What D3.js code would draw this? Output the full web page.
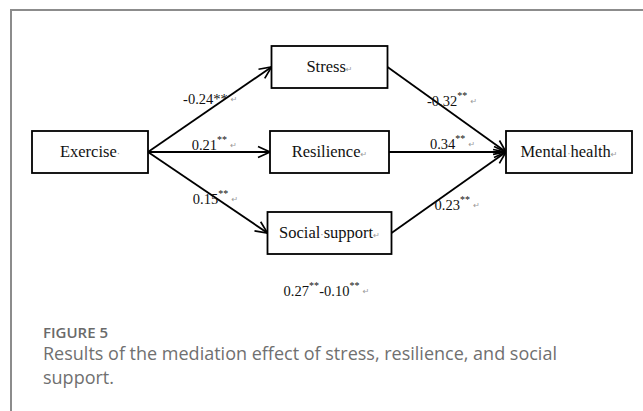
<!DOCTYPE html>
<html>
<head>
<meta charset="utf-8">
<script src="https://cdn.jsdelivr.net/npm/d3@7"></script>
<style>
body { margin: 0; background: #fff; }
svg { display: block; }
</style>
</head>
<body>
<div id="chart"></div>
<script>
// variables of the mediation model
var predictor = "Exercise";
var mediators = ["Stress", "Resilience", "Social support"];
var outcome = "Mental health";

// standardized coefficients
var pathsA = [-0.24, 0.21, 0.15];   // Exercise -> mediator
var pathsB = [-0.32, 0.34, 0.23];   // mediator -> Mental health
var starsA = ["**", "**", "**"];
var starsB = ["**", "**", "**"];
var directEffects = [0.27, -0.10];
var directStars = ["**", "**"];

var captionTitle = "FIGURE 5";
var captionLines = [
    "Results of the mediation effect of stress, resilience, and social",
    "support."
];

var fmt = d3.formatLocale({ decimal: ".", thousands: ",", grouping: [3], currency: ["", ""], minus: "-" }).format(".2f");

function PathDiagram(elemId, htmlWidth, htmlHeight) {
    this._htmlWidth = htmlWidth;
    this._htmlHeight = htmlHeight;

    // column and row scales for the boxes
    this._xscale = d3.scalePoint()
        .domain(["x", "m", "y"])
        .range([90, 569]);
    this._yscale = d3.scaleOrdinal()
        .domain(mediators)
        .range([67, 152, 233]);
    this._boxW = { "Exercise": 116, "Stress": 116, "Resilience": 119, "Social support": 124, "Mental health": 126 };
    this._boxH = 42;

    this._svg = d3.select("#" + elemId)
        .append("svg")
        .attr("width", htmlWidth)
        .attr("height", htmlHeight);

    this._svg.append("defs").append("marker")
        .attr("id", "head")
        .attr("markerUnits", "userSpaceOnUse")
        .attr("viewBox", "-13 -7 14 14")
        .attr("refX", 0)
        .attr("refY", 0)
        .attr("markerWidth", 14)
        .attr("markerHeight", 14)
        .attr("orient", "auto")
        .append("path")
        .attr("d", "M-12,-5.5L0,0L-12,5.5")
        .attr("fill", "none")
        .attr("stroke", "#000")
        .attr("stroke-width", 1.7);
}

PathDiagram.prototype.node = function (name) {
    var col = name === predictor ? "x" : (name === outcome ? "y" : "m");
    var cy = col === "m" ? this._yscale(name) : this._yscale("Resilience");
    return { name: name, cx: this._xscale(col), cy: cy, w: this._boxW[name], h: this._boxH };
}

PathDiagram.prototype.drawFrame = function () {
    var g = this._svg.append("g").attr("stroke", "#8c8c8c").attr("stroke-width", 2);
    g.append("line").attr("x1", 10).attr("x2", this._htmlWidth).attr("y1", 10).attr("y2", 10);
    g.append("line").attr("x1", 11).attr("x2", 11).attr("y1", 9).attr("y2", this._htmlHeight);
}

PathDiagram.prototype.drawBoxes = function () {
    var nodes = [predictor].concat(mediators).concat([outcome]).map(this.node, this);
    var g = this._svg.selectAll("g.box")
        .data(nodes)
        .enter()
        .append("g")
        .attr("class", "box");
    g.append("rect")
        .attr("x", function (d) { return d.cx - d.w / 2; })
        .attr("y", function (d) { return d.cy - d.h / 2; })
        .attr("width", function (d) { return d.w; })
        .attr("height", function (d) { return d.h; })
        .attr("fill", "#fff")
        .attr("stroke", "#000")
        .attr("stroke-width", 1.8);
    var t = g.append("text")
        .attr("x", function (d) { return d.cx; })
        .attr("y", function (d) { return d.cy + 5; })
        .attr("text-anchor", "middle")
        .attr("font-family", "'Liberation Serif', 'Times New Roman', serif")
        .attr("font-size", 16.5)
        .attr("fill", "#111");
    t.each(function (d) {
        var words = d.name.split(" ");
        var sel = d3.select(this);
        words.forEach(function (w, i) {
            if (i > 0) sel.append("tspan").attr("fill", "#888").attr("font-size", 10).text("\u00b7");
            sel.append("tspan").text(w);
        });
        if (d.name === predictor) sel.append("tspan").attr("fill", "#888").attr("font-size", 10).text("\u00b7");
        else sel.append("tspan").attr("fill", "#999").attr("font-size", 8).attr("font-family", "DejaVu Sans").text("\u21b5");
    });
}

PathDiagram.prototype.appendCoef = function (sel, parts) {
    // parts: list of [value, stars, superscript?]
    parts.forEach(function (p) {
        sel.append("tspan").text(fmt(p[0]));
        if (p[2]) {
            sel.append("tspan").attr("font-size", 10).attr("dy", -7).text(p[1]);
            sel.append("tspan").attr("font-size", 1).attr("dy", 7).text(" ");
        } else {
            sel.append("tspan").text(p[1]);
        }
    });
    sel.append("tspan")
        .attr("dx", 3)
        .attr("dy", -2)
        .attr("font-size", 8)
        .attr("font-family", "DejaVu Sans")
        .attr("fill", "#999")
        .text("\u21b5");
}

PathDiagram.prototype.drawPaths = function () {
    var self = this;
    var src = this.node(predictor);
    var dst = this.node(outcome);
    var edges = [];
    // label placement: fraction along the arrow, then offset
    var labA = [[0.3, -2, -23], [0.35, 1, -2], [0.35, 3, 24]];
    var labB = [[0.35, -2, 9], [0.35, 0, -3], [0.35, 3, 5]];
    mediators.forEach(function (m, i) {
        var n = self.node(m);
        edges.push({ x1: src.cx + src.w / 2, y1: src.cy, x2: n.cx - n.w / 2, y2: n.cy,
            coef: pathsA[i], stars: starsA[i], sup: i > 0, lab: labA[i] });
        edges.push({ x1: n.cx + n.w / 2, y1: n.cy, x2: dst.cx - dst.w / 2, y2: dst.cy,
            coef: pathsB[i], stars: starsB[i], sup: true, lab: labB[i] });
    });

    this._svg.selectAll("line.path")
        .data(edges)
        .enter()
        .append("line")
        .attr("class", "path")
        .attr("x1", function (d) { return d.x1; })
        .attr("y1", function (d) { return d.y1; })
        .attr("x2", function (d) { return d.x2; })
        .attr("y2", function (d) { return d.y2; })
        .attr("stroke", "#000")
        .attr("stroke-width", 1.8)
        .attr("marker-end", "url(#head)");

    this._svg.selectAll("text.coef")
        .data(edges)
        .enter()
        .append("text")
        .attr("class", "coef")
        .attr("x", function (d) { return d.x1 + (d.x2 - d.x1) * d.lab[0] + d.lab[1]; })
        .attr("y", function (d) { return d.y1 + (d.y2 - d.y1) * d.lab[0] + d.lab[2]; })
        .attr("font-family", "'Liberation Serif', 'Times New Roman', serif")
        .attr("font-size", 14.5)
        .attr("fill", "#111")
        .each(function (d) {
            self.appendCoef(d3.select(this), [[d.coef, d.stars, d.sup]]);
        });

    // direct effects below the social support box
    var s = this.node(mediators[2]);
    var t = this._svg.append("text")
        .attr("x", s.cx - 3)
        .attr("y", s.cy + s.h / 2 + 42)
        .attr("text-anchor", "middle")
        .attr("font-family", "'Liberation Serif', 'Times New Roman', serif")
        .attr("font-size", 14.5)
        .attr("fill", "#111");
    this.appendCoef(t, directEffects.map(function (v, i) { return [v, directStars[i], true]; }));
}

PathDiagram.prototype.drawCaption = function () {
    this._svg.append("text")
        .attr("x", 43)
        .attr("y", 338)
        .attr("font-family", "'Open Sans', sans-serif")
        .attr("font-weight", 600)
        .attr("font-size", 15)
        .attr("fill", "#6a6a6a")
        .text(captionTitle);
    this._svg.append("g")
        .selectAll("text")
        .data(captionLines)
        .enter()
        .append("text")
        .attr("x", 43)
        .attr("y", function (d, i) { return 360 + i * 24; })
        .attr("font-family", "'Open Sans', sans-serif")
        .attr("font-size", 18)
        .attr("fill", "#707070")
        .text(function (d) { return d; });
}

var diagram = new PathDiagram("chart", 643, 411);
diagram.drawFrame();
diagram.drawPaths();
diagram.drawBoxes();
diagram.drawCaption();
</script>
</body>
</html>
